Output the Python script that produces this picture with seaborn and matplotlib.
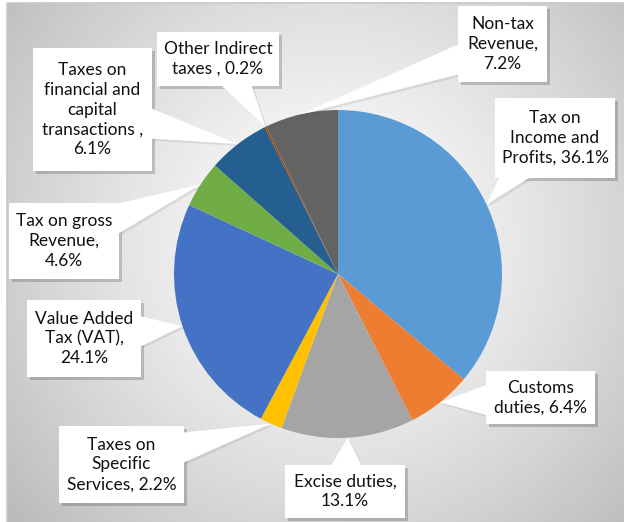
import numpy as np
import matplotlib
matplotlib.use("Agg")
import matplotlib.pyplot as plt
import seaborn as sns
from matplotlib.patches import Polygon, Rectangle

# ---------------- data ----------------
categories = ["Tax on Income and Profits", "Customs duties", "Excise duties",
              "Taxes on Specific Services", "Value Added Tax (VAT)",
              "Tax on gross Revenue", "Taxes on financial and capital transactions",
              "Other Indirect taxes", "Non-tax Revenue"]
values = [36.1, 6.4, 13.1, 2.2, 24.1, 4.6, 6.1, 0.2, 7.2]
labels = ["Tax on\nIncome and\nProfits, 36.1%",
          "Customs\nduties, 6.4%",
          "Excise duties,\n13.1%",
          "Taxes on\nSpecific\nServices, 2.2%",
          "Value Added\nTax (VAT),\n24.1%",
          "Tax on gross\nRevenue,\n4.6%",
          "Taxes on\nfinancial and\ncapital\ntransactions ,\n6.1%",
          "Other Indirect\ntaxes , 0.2%",
          "Non-tax\nRevenue,\n7.2%"]
colors = ["#5B9BD5", "#ED7D31", "#A5A5A5", "#FFC000", "#4472C4",
          "#70AD47", "#255E91", "#9E480E", "#636363"]

# ---------------- layout (pixels, y measured from top) ----------------
W, H = 624, 522
pie_cx, pie_cy, pie_r = 338, 274, 164
# label boxes: (x0, y0, x1, y1)
boxes = [(495, 98, 615, 178),
         (486, 371, 595, 424),
         (285, 465, 405, 518),
         (59, 426, 184, 503),
         (27, 300, 141, 377),
         (9, 203, 119, 279),
         (33, 48, 152, 171),
         (157, 32, 279, 86),
         (458, 6, 547, 82)]

sns.set_theme(style="white")
plt.rcParams["font.family"] = ["Lato", "DejaVu Sans"]

fig = plt.figure(figsize=(W / 100, H / 100), dpi=100)
fig.patch.set_facecolor("white")
ax = fig.add_axes([0, 0, 1, 1])

def Y(y):
    return H - y

# background radial gradient panel
gx0, gy0 = 7, 3
xs = np.linspace(gx0, W, 300)
ys = np.linspace(gy0, H, 260)
XX, YY = np.meshgrid(xs, ys)
rr = np.sqrt((XX - 330) ** 2 + (YY - 240) ** 2)
rr = rr / rr.max()
shade = 1.0 - 0.27 * rr ** 1.3
img = np.dstack([shade, shade, shade])
ax.imshow(img, extent=(gx0, W, Y(H), Y(gy0)), origin="upper", zorder=0,
          aspect="auto", interpolation="bilinear")
ax.plot([gx0, gx0, W], [Y(H), Y(gy0), Y(gy0)], color="#c8c8c8", lw=1.2, zorder=1)

# pie
wedges, _ = ax.pie(values, colors=colors, startangle=90, counterclock=False,
                   center=(pie_cx, Y(pie_cy)), radius=pie_r,
                   wedgeprops=dict(linewidth=0, zorder=2))
for w in wedges:
    w.set_zorder(2)

# callouts
for w, lab, (x0, y0, x1, y1) in zip(wedges, labels, boxes):
    mid = np.deg2rad((w.theta1 + w.theta2) / 2)
    ax_pt = (pie_cx + pie_r * np.cos(mid), Y(pie_cy) + pie_r * np.sin(mid))
    bx0, bx1 = x0, x1
    by0, by1 = Y(y1), Y(y0)
    cx, cy = (bx0 + bx1) / 2, (by0 + by1) / 2
    dx, dy = ax_pt[0] - cx, ax_pt[1] - cy
    hw, hh = (bx1 - bx0) / 2, (by1 - by0) / 2
    tx = hw / abs(dx) if dx != 0 else np.inf
    ty = hh / abs(dy) if dy != 0 else np.inf
    half = 15
    if tx < ty:
        ex = cx + np.sign(dx) * hw
        ey = cy + dy * tx
        ey = np.clip(ey, by0 + half, by1 - half)
        base = [(ex, ey - half), (ex, ey + half)]
    else:
        ey = cy + np.sign(dy) * hh
        ex = cx + dx * ty
        ex = np.clip(ex, bx0 + half, bx1 - half)
        base = [(ex - half, ey), (ex + half, ey)]
    ax.add_patch(Rectangle((bx0 + 3, by0 - 3), bx1 - bx0, by1 - by0,
                           facecolor="#000000", alpha=0.18, lw=0, zorder=3))
    ax.add_patch(Polygon([(base[0][0] + 2, base[0][1] - 2), (ax_pt[0] + 2, ax_pt[1] - 2),
                          (base[1][0] + 2, base[1][1] - 2)],
                         closed=True, facecolor="#000000", alpha=0.08, lw=0, zorder=3))
    ax.add_patch(Polygon([base[0], ax_pt, base[1]], closed=True,
                         facecolor="white", edgecolor="none", zorder=4))
    ax.add_patch(Rectangle((bx0, by0), bx1 - bx0, by1 - by0,
                           facecolor="white", edgecolor="none", zorder=5))
    ax.text(cx, cy, lab, ha="center", va="center", fontsize=12.5,
            linespacing=1.3, color="#111111", zorder=6)

ax.set_xlim(0, W)
ax.set_ylim(0, H)
ax.set_aspect("auto")
ax.axis("off")

fig.savefig("out.png", dpi=100, facecolor="white")
